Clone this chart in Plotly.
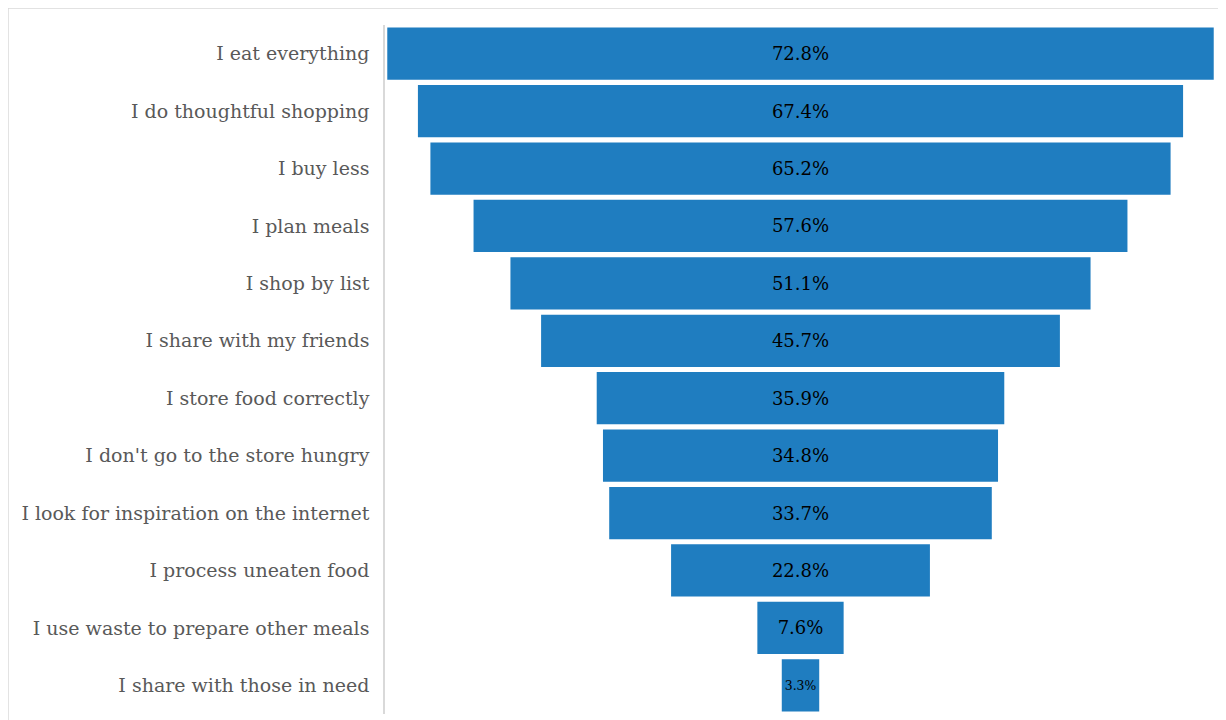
import plotly.graph_objects as go

categories = [
    "I eat everything",
    "I do thoughtful shopping",
    "I buy less",
    "I plan meals",
    "I shop by list",
    "I share with my friends",
    "I store food correctly",
    "I don't go to the store hungry",
    "I look for inspiration on the internet",
    "I process uneaten food",
    "I use waste to prepare other meals",
    "I share with those in need",
]
values = [72.8, 67.4, 65.2, 57.6, 51.1, 45.7, 35.9, 34.8, 33.7, 22.8, 7.6, 3.3]
value_labels = [f"{v:.1f}%" for v in values]

fig = go.Figure(go.Funnel(
    y=categories,
    x=values,
    text=value_labels,
    textinfo="text",
    textposition="inside",
    insidetextanchor="middle",
    textfont=dict(family="DejaVu Serif", size=18, color="#000000"),
    marker=dict(color="#1F7DC0", line=dict(width=0)),
    connector=dict(visible=False),
    hoverinfo="skip",
))

fig.update_layout(
    width=1218, height=712,
    margin=dict(l=377, r=10, t=17, b=6),
    paper_bgcolor="white", plot_bgcolor="white",
    funnelgap=0.09,
    showlegend=False,
    xaxis=dict(visible=False, range=[-36.6, 36.6]),
    yaxis=dict(
        showline=True, linecolor="#d9d9d9", linewidth=1.5,
        showgrid=False, ticks="", ticklabelstandoff=10,
        tickfont=dict(family="DejaVu Serif", size=19, color="#595959"),
    ),
    shapes=[dict(
        type="rect", xref="paper", yref="paper",
        x0=-0.4537, x1=1.0072, y0=-0.02, y1=1.0247,
        line=dict(color="#d9d9d9", width=1.5), layer="below",
    )],
)

fig.write_html("out.html")
